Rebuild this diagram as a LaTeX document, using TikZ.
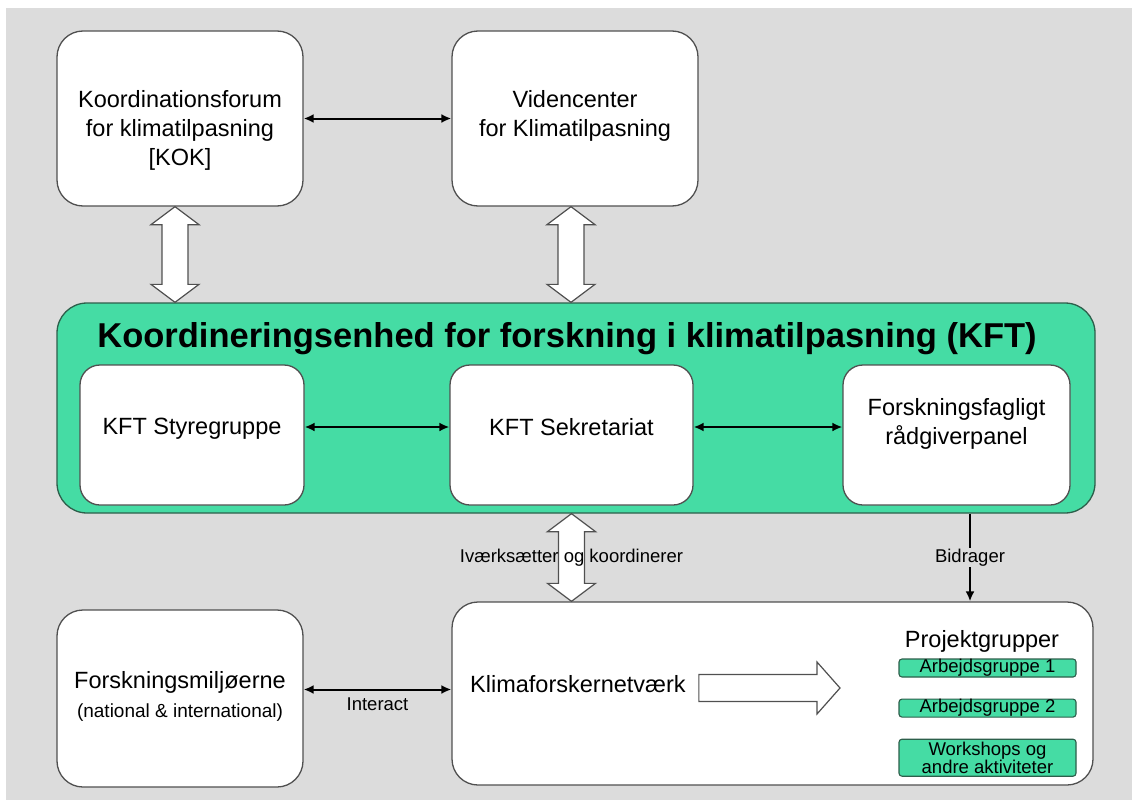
\documentclass[tikz,border=0pt]{standalone}
\usepackage{fontspec}
\setmainfont{Liberation Sans}
\usetikzlibrary{positioning,arrows.meta,calc}
\definecolor{bggray}{RGB}{220,220,220}
\definecolor{kftgreen}{RGB}{69,220,164}
\definecolor{edgegray}{RGB}{80,80,80}
\definecolor{edgegreen}{RGB}{45,95,75}
% hollow double arrow, vertical, from #1 (top) down to the height of #2
\newcommand{\fatvarrow}[2]{%
  \draw[fat] let \p1=(#1), \p2=(#2) in
    (\x1,\y1) -- (\x1+24pt,\y1-18pt) -- (\x1+13pt,\y1-18pt) -- (\x1+13pt,\y2+18pt)
    -- (\x1+24pt,\y2+18pt) -- (\x1,\y2) -- (\x1-24pt,\y2+18pt) -- (\x1-13pt,\y2+18pt)
    -- (\x1-13pt,\y1-18pt) -- (\x1-24pt,\y1-18pt) -- cycle;}

\begin{document}
\begin{tikzpicture}[
  x=1pt, y=-1pt, >={Latex[length=10pt,width=9pt]},
  panel/.style={draw=edgegray, line width=1.3pt, fill=white, rounded corners=26pt, inner sep=0pt},
  subpanel/.style={panel, rounded corners=20pt, minimum height=140pt},
  txt/.style={align=center, inner sep=0pt, font=\fontsize{23.5}{29}\selectfont},
  lbl/.style={inner sep=1pt, font=\fontsize{18.5}{22}\selectfont},
  grp/.style={draw=edgegreen, line width=1.1pt, fill=kftgreen, rounded corners=3pt,
    minimum width=177pt, minimum height=18pt, inner sep=0pt, align=center,
    font=\fontsize{18.5}{18}\selectfont},
  link/.style={<->, line width=2pt},
  fat/.style={draw=edgegray, line width=1.2pt, fill=white},
]
  \useasboundingbox (0,0) rectangle (1132,800);
  \fill[white] (0,0) rectangle (1132,800);
  \fill[bggray] (6,8) rectangle (1132,800);

  % top row
  \node[panel, minimum width=246pt, minimum height=175pt] (kok) at (180,118.5) {};
  \node[txt] (kok-t) at ([yshift=-12pt]kok.center) {Koordinationsforum\\for klimatilpasning\\{[KOK]}};
  \node[panel, minimum width=246pt, minimum height=175pt] (vid) at (575,118.5) {};
  \node[txt] (vid-t) at ([yshift=2.5pt]vid.center) {Videncenter\\for Klimatilpasning};

  % KFT
  \node[panel, draw=edgegreen, fill=kftgreen, rounded corners=30pt, minimum width=1038pt, minimum height=210pt] (kft) at (576,408) {};
  \node[anchor=base, inner sep=0pt, font=\bfseries\fontsize{34.5}{40}\selectfont] (kft-t) at (567,347) {Koordineringsenhed for forskning i klimatilpasning (KFT)};
  \node[subpanel, minimum width=224pt] (styre) at (192,435) {};
  \node[txt] (styre-t) at ([yshift=6pt]styre.center) {KFT Styregruppe};
  \node[subpanel, minimum width=243pt] (sek) at (571.5,435) {};
  \node[txt] (sek-t) at ([yshift=7.5pt]sek.center) {KFT Sekretariat};
  \node[subpanel, minimum width=227pt] (raad) at (956.5,435) {};
  \node[txt] (raad-t) at ([yshift=11pt]raad.center) {Forskningsfagligt\\rådgiverpanel};

  % bottom row
  \node[panel, minimum width=246pt, minimum height=177pt] (miljo) at (180,698.5) {};
  \node[txt] (miljo-t) at ([yshift=2pt]miljo.center) {Forskningsmiljøerne\\{\fontsize{19}{22}\selectfont (national \& international)}};
  \node[panel, minimum width=641pt, minimum height=183pt] (klima) at (772.5,693.5) {};
  \node[txt, anchor=base west] (klima-t) at (470,692) {Klimaforskernetværk};
  \node[txt, anchor=base] (pg) at (982,647) {Projektgrupper};
  \node[grp] (ag1) at (987.5,668) {Arbejdsgruppe 1};
  \node[grp, below=21pt of ag1] (ag2) {Arbejdsgruppe 2};
  \node[grp, minimum height=37pt, below=21pt of ag2] (ws) {Workshops og\\andre aktiviteter};

  % connectors
  \draw[link] (kok) -- (vid);
  \draw[link] ([yshift=8pt]styre.east) -- ([yshift=8pt]sek.west);
  \draw[link] ([yshift=8pt]sek.east) -- ([yshift=8pt]raad.west);
  \draw[link] ([yshift=4pt]miljo.east |- klima.west) -- ([yshift=4pt]klima.west) node[lbl, midway, below=6pt] {Interact};
  \fatvarrow{[xshift=-5pt]kok.south}{kft.north}
  \fatvarrow{[xshift=-4pt]vid.south}{kft.north}
  \fatvarrow{sek.south |- kft.south}{klima.north}
  \path (sek.south |- kft.south) -- (sek.south |- klima.north) node[lbl, midway] {Iværksætter og koordinerer};
  \coordinate (bid-x) at ([xshift=13.5pt]raad.south);
  \draw[->, line width=2pt] (bid-x |- kft.south) -- (bid-x |- klima.north) node[lbl, midway, fill=bggray] {Bidrager};
  \coordinate (fa-start) at ([xshift=13pt]klima-t.east);
  \coordinate (pg-in) at (840,688);
  \draw[fat] let \p1=(fa-start), \p2=(pg-in) in
    (\x1,\y2+13.5pt) -- (\x2-23pt,\y2+13.5pt) -- (\x2-23pt,\y2+26pt) -- (\x2,\y2)
    -- (\x2-23pt,\y2-26pt) -- (\x2-23pt,\y2-13.5pt) -- (\x1,\y2-13.5pt) -- cycle;
\end{tikzpicture}
\end{document}
